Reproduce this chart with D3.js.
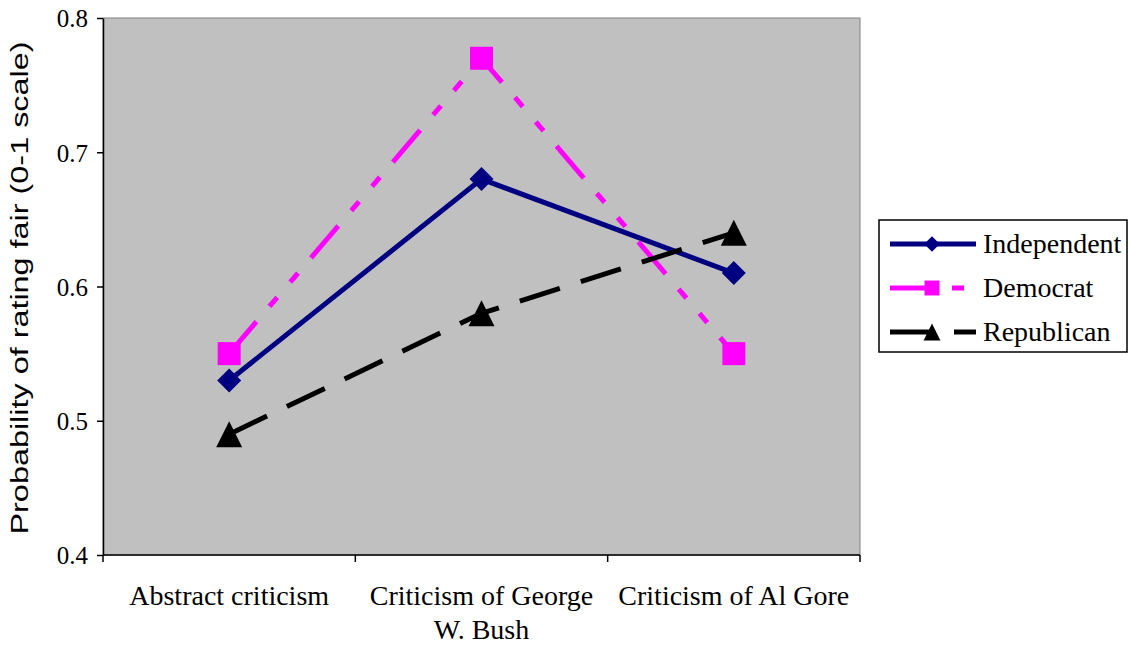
<!DOCTYPE html>
<html>
<head>
<meta charset="utf-8">
<script src="https://cdn.jsdelivr.net/npm/d3@7"></script>
<style>
  body { margin: 0; background: #fff; }
  svg { display: block; }
</style>
</head>
<body>
<div id="drawArea"></div>
<script>
// categories on the x axis (second line for wrapped label)
var categories = ['Abstract criticism', 'Criticism of George W. Bush', 'Criticism of Al Gore'];
var categoryLines = [['Abstract criticism'], ['Criticism of George', 'W. Bush'], ['Criticism of Al Gore']];

// series values
var seriesNames = ['Independent', 'Democrat', 'Republican'];
var independent = [0.53, 0.68, 0.61];
var democrat = [0.55, 0.77, 0.55];
var republican = [0.49, 0.58, 0.64];

// y tick labels
var yTicks = [0.4, 0.5, 0.6, 0.7, 0.8];

var series = [
    { name: 'Independent', values: independent, color: '#000080', dash: null, marker: 'diamond' },
    { name: 'Democrat', values: democrat, color: '#ff00ff', dash: '42,20,12,20,12,20', marker: 'square' },
    { name: 'Republican', values: republican, color: '#000000', dash: '42,22', marker: 'triangle' }
];

var W = 1132, H = 645;
var plot = { left: 103, right: 860, top: 18, bottom: 555 };

var svg = d3.select('#drawArea')
    .append('svg')
    .attr('width', W)
    .attr('height', H);

var x = d3.scaleBand()
    .domain(categories)
    .range([plot.left, plot.right])
    .padding(0);

var y = d3.scaleLinear()
    .domain([0.4, 0.8])
    .range([plot.bottom, plot.top]);

// plot background
svg.append('rect')
    .attr('x', plot.left)
    .attr('y', plot.top)
    .attr('width', plot.right - plot.left)
    .attr('height', plot.bottom - plot.top)
    .attr('fill', '#c0c0c0')
    .attr('stroke', '#808080')
    .attr('stroke-width', 1);

// y axis
var yAxis = svg.append('g')
    .attr('transform', 'translate(' + plot.left + ',0)')
    .call(d3.axisLeft(y).tickValues(yTicks).tickFormat(d3.format('.1f')).tickSize(6).tickSizeOuter(0));
yAxis.select('.domain').attr('stroke', '#000').attr('stroke-width', 1.5);
yAxis.selectAll('.tick line').attr('stroke', '#000').attr('stroke-width', 1.5);
yAxis.selectAll('.tick text')
    .attr('x', -15)
    .attr('dy', '0.35em')
    .style('font-family', '"Liberation Serif", "Times New Roman", serif')
    .style('font-size', '25px')
    .attr('fill', '#000');

// x axis: ticks at band boundaries
var xg = svg.append('g');
xg.append('line')
    .attr('x1', plot.left).attr('x2', plot.right)
    .attr('y1', plot.bottom).attr('y2', plot.bottom)
    .attr('stroke', '#000').attr('stroke-width', 1.5);
var bounds = categories.map(function (c) { return x(c); }).concat([plot.right]);
xg.selectAll('.xtick')
    .data(bounds)
    .enter()
    .append('line')
    .attr('x1', function (d) { return d; })
    .attr('x2', function (d) { return d; })
    .attr('y1', plot.bottom)
    .attr('y2', plot.bottom + 7)
    .attr('stroke', '#000').attr('stroke-width', 1.5);

xg.selectAll('.xlabel')
    .data(categories)
    .enter()
    .append('text')
    .attr('text-anchor', 'middle')
    .attr('x', function (d) { return x(d) + x.bandwidth() / 2; })
    .attr('y', 605)
    .style('font-family', '"Liberation Serif", "Times New Roman", serif')
    .style('font-size', '28px')
    .selectAll('tspan')
    .data(function (d, i) { return categoryLines[i]; })
    .enter()
    .append('tspan')
    .attr('x', function () { var p = this.parentNode; return p.getAttribute('x'); })
    .attr('dy', function (d, i) { return i == 0 ? 0 : 34; })
    .text(function (d) { return d; });

// y axis title
svg.append('text')
    .attr('transform', 'translate(28,288) rotate(-90)')
    .attr('text-anchor', 'middle')
    .attr('textLength', 493)
    .attr('lengthAdjust', 'spacingAndGlyphs')
    .style('font-family', '"Liberation Sans", Arial, sans-serif')
    .style('font-size', '23px')
    .text('Probability of rating fair (0-1 scale)');

// markers
function drawMarker(g, type, cx, cy, s, color) {
    if (type == 'diamond') {
        g.append('path')
            .attr('d', 'M' + cx + ',' + (cy - s) + 'L' + (cx + s) + ',' + cy + 'L' + cx + ',' + (cy + s) + 'L' + (cx - s) + ',' + cy + 'Z')
            .attr('fill', color);
    } else if (type == 'square') {
        g.append('rect')
            .attr('x', cx - s).attr('y', cy - s)
            .attr('width', 2 * s).attr('height', 2 * s)
            .attr('fill', color);
    } else {
        g.append('path')
            .attr('d', 'M' + cx + ',' + (cy - s) + 'L' + (cx + s) + ',' + (cy + s) + 'L' + (cx - s) + ',' + (cy + s) + 'Z')
            .attr('fill', color);
    }
}
var markerSize = { diamond: 12, square: 11.5, triangle: 13 };

var line = d3.line()
    .x(function (d, i) { return x(categories[i]) + x.bandwidth() / 2; })
    .y(function (d) { return y(d); });

series.forEach(function (s) {
    var g = svg.append('g');
    g.append('path')
        .datum(s.values)
        .attr('d', line)
        .attr('fill', 'none')
        .attr('stroke', s.color)
        .attr('stroke-width', 5)
        .attr('stroke-dasharray', s.dash);
    s.values.forEach(function (v, i) {
        drawMarker(g, s.marker, x(categories[i]) + x.bandwidth() / 2, y(v), markerSize[s.marker], s.color);
    });
});

// legend
var legend = svg.append('g');
legend.append('rect')
    .attr('x', 879).attr('y', 220)
    .attr('width', 248).attr('height', 132)
    .attr('fill', '#fff')
    .attr('stroke', '#000')
    .attr('stroke-width', 1.5);

series.forEach(function (s, i) {
    var ly = 244 + i * 44;
    legend.append('line')
        .attr('x1', 890).attr('x2', 976)
        .attr('y1', ly).attr('y2', ly)
        .attr('stroke', s.color)
        .attr('stroke-width', 5)
        .attr('stroke-dasharray', s.dash);
    drawMarker(legend, s.marker, 932, ly, markerSize[s.marker] * 0.65, s.color);
    legend.append('text')
        .attr('x', 983)
        .attr('y', ly + 9)
        .style('font-family', '"Liberation Serif", "Times New Roman", serif')
        .style('font-size', '28px')
        .text(s.name);
});
</script>
</body>
</html>
